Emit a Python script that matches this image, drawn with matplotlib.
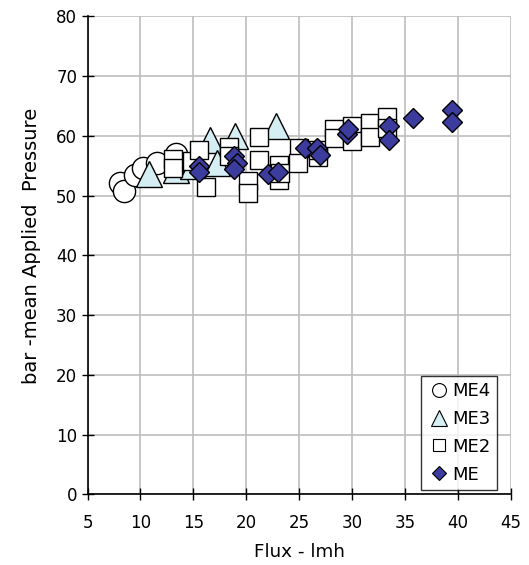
import matplotlib
matplotlib.use("Agg")
import matplotlib.pyplot as plt
from matplotlib.lines import Line2D

plt.rcParams['font.family'] = ['DejaVu Sans']

# Flux (lmh) and mean applied pressure (bar) for each membrane element series
me4_flux = [8.1, 8.4, 9.5, 10.2, 11.6, 13.4]
me4_pressure = [52.1, 50.7, 53.5, 54.7, 55.5, 56.9]

me3_flux = [10.8, 13.4, 15.0, 16.6, 17.2, 18.9, 22.8]
me3_pressure = [53.7, 54.3, 55.0, 59.4, 55.5, 60.0, 61.7]

me2_flux = [13.1, 13.1, 14.9, 15.5, 16.2, 18.4, 18.4, 20.2, 20.2, 21.2, 21.2,
            23.1, 23.1, 23.2, 25.0, 24.9, 26.8, 26.8, 28.3, 28.3, 30.0, 30.0,
            31.7, 31.7, 33.3, 33.3]
me2_pressure = [56.1, 54.6, 55.8, 57.7, 51.4, 58.2, 56.7, 52.4, 50.5, 59.8, 56.0,
                55.2, 52.6, 53.8, 58.0, 55.4, 56.5, 57.7, 61.2, 59.6, 61.6, 59.1,
                62.1, 59.8, 63.2, 61.3]

me_flux = [15.5, 15.5, 18.8, 19.1, 18.8, 22.1, 23.0, 25.6, 26.7, 27.0, 29.5,
           29.6, 33.5, 33.5, 35.8, 39.5, 39.5]
me_pressure = [54.9, 53.9, 56.6, 55.4, 54.5, 53.6, 54.0, 58.0, 58.0, 56.8, 60.4,
               61.1, 61.6, 59.3, 63.0, 64.4, 62.4]

series_labels = ["ME4", "ME3", "ME2", "ME"]

x_ticks = [5, 10, 15, 20, 25, 30, 35, 40, 45]
y_ticks = [0, 10, 20, 30, 40, 50, 60, 70, 80]

fig = plt.figure(figsize=(5.29, 5.65), dpi=100)
ax = fig.add_axes([0.1656, 0.1251, 0.7996, 0.8457])

blue = '#3B3C9E'
cyan = '#D4EEF3'

ax.plot(me4_flux, me4_pressure, linestyle='none', marker='o', markersize=16,
        markerfacecolor='white', markeredgecolor='black', markeredgewidth=1.0, zorder=3)
ax.plot(me3_flux, me3_pressure, linestyle='none', marker='^', markersize=19,
        markerfacecolor=cyan, markeredgecolor='black', markeredgewidth=1.0, zorder=4)
ax.plot(me2_flux, me2_pressure, linestyle='none', marker='s', markersize=13,
        markerfacecolor='white', markeredgecolor='black', markeredgewidth=1.0, zorder=5)
ax.plot(me_flux, me_pressure, linestyle='none', marker='D', markersize=9.7,
        markerfacecolor=blue, markeredgecolor='black', markeredgewidth=1.0, zorder=6)

ax.set_xlim(5, 45)
ax.set_ylim(0, 80)
ax.set_xticks(x_ticks)
ax.set_yticks(y_ticks)
ax.tick_params(direction='inout', length=8, width=1.0, labelsize=12)
ax.tick_params(axis='x', pad=10)
ax.tick_params(axis='y', pad=3.5)
ax.grid(True, color='#BDBDBD', linewidth=1.2)
ax.set_axisbelow(True)
for side in ['top', 'right']:
    ax.spines[side].set_visible(False)
for side in ['left', 'bottom']:
    ax.spines[side].set_linewidth(1.2)
    ax.spines[side].set_zorder(10)

ax.set_xlabel("Flux - lmh", fontsize=13.2, labelpad=8)
ax.set_ylabel("bar -mean Applied  Pressure", fontsize=14)
ax.yaxis.set_label_coords(-0.11, 0.52)

handles = [
    Line2D([], [], linestyle='none', marker='o', markersize=10,
           markerfacecolor='white', markeredgecolor='black', markeredgewidth=0.8),
    Line2D([], [], linestyle='none', marker='^', markersize=11,
           markerfacecolor=cyan, markeredgecolor='black', markeredgewidth=0.8),
    Line2D([], [], linestyle='none', marker='s', markersize=9,
           markerfacecolor='white', markeredgecolor='black', markeredgewidth=0.8),
    Line2D([], [], linestyle='none', marker='D', markersize=7,
           markerfacecolor=blue, markeredgecolor='black', markeredgewidth=0.8),
]
leg = ax.legend(handles, series_labels, loc='lower right', bbox_to_anchor=(0.968, 0.009),
                fontsize=13, frameon=True, fancybox=False, edgecolor='black',
                borderpad=0.35, handletextpad=0.1, handlelength=1.3,
                labelspacing=0.55, borderaxespad=0)
leg.get_frame().set_linewidth(1.0)
leg.set_zorder(20)

fig.savefig("out.png", dpi=100)
